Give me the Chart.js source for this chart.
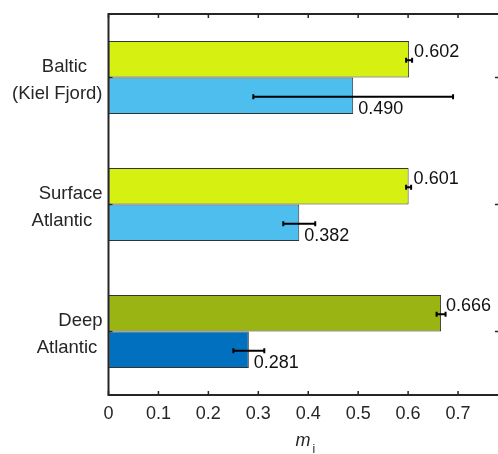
<!DOCTYPE html>
<html>
<head>
<meta charset="utf-8">
<script src="https://cdn.jsdelivr.net/npm/chart.js@4/dist/chart.umd.min.js"></script>
<style>
  html, body { margin: 0; padding: 0; overflow: hidden; background: #fff; }
  #wrap { width: 504px; height: 454px; }
</style>
</head>
<body>
<div id="wrap"><canvas id="c" width="504" height="454"></canvas></div>
<script>
// Region labels (trailing spaces keep the right-aligned lines staggered)
const regions = [["Baltic   ", "(Kiel Fjord)"], ["Surface", "Atlantic  "], ["Deep", "Atlantic "]];

// Upper bar of each pair, with its error half-width
const upperValues = [0.602, 0.601, 0.666];
const upperErrors = [0.006, 0.005, 0.009];

// Lower bar of each pair, with its error half-width
const lowerValues = [0.490, 0.382, 0.281];
const lowerErrors = [0.200, 0.032, 0.031];

const xTickValues = [0, 0.1, 0.2, 0.3, 0.4, 0.5, 0.6, 0.7];

const upperColors = ["#d6f011", "#d6f011", "#9ab513"];
const lowerColors = ["#4dbeee", "#4dbeee", "#0070bf"];

const FONT = '"Liberation Sans", Arial, Helvetica, sans-serif';
const INK = '#262626';

const errorMap = [upperErrors, lowerErrors];

// Inward tick marks and the axis box
const axisBox = {
  id: 'axisBox',
  beforeDatasetsDraw(chart) {
    const { ctx, chartArea: a, scales } = chart;
    ctx.save();
    ctx.strokeStyle = INK;
    ctx.lineWidth = 1.5;
    ctx.beginPath();
    scales.x.ticks.forEach(t => {
      const px = scales.x.getPixelForValue(t.value);
      ctx.moveTo(px, a.bottom); ctx.lineTo(px, a.bottom - 4);
      ctx.moveTo(px, a.top); ctx.lineTo(px, a.top + 4);
    });
    regions.forEach((_, i) => {
      const py = scales.y.getPixelForValue(i);
      ctx.moveTo(a.left, py); ctx.lineTo(a.left + 4, py);
      ctx.moveTo(a.right, py); ctx.lineTo(a.right - 5, py);
    });
    ctx.stroke();
    ctx.restore();
  },
  afterDatasetsDraw(chart) {
    const { ctx, chartArea: a } = chart;
    ctx.save();
    ctx.strokeStyle = INK;
    ctx.lineWidth = 2;
    ctx.strokeRect(a.left, a.top, a.right - a.left, a.bottom - a.top);
    ctx.restore();
  }
};

// Horizontal error bars with small caps, then the value labels
const errorBars = {
  id: 'errorBars',
  afterDatasetsDraw(chart) {
    const { ctx, scales } = chart;
    ctx.save();
    chart.data.datasets.forEach((ds, d) => {
      const meta = chart.getDatasetMeta(d);
      meta.data.forEach((bar, i) => {
        const v = ds.data[i];
        const e = errorMap[d][i];
        const x1 = scales.x.getPixelForValue(v - e);
        const x2 = scales.x.getPixelForValue(v + e);
        const y = bar.y + 1;
        ctx.strokeStyle = '#000';
        ctx.lineWidth = 2;
        ctx.beginPath();
        ctx.moveTo(x1, y); ctx.lineTo(x2, y);
        ctx.moveTo(x1, y - 2.5); ctx.lineTo(x1, y + 2.5);
        ctx.moveTo(x2, y - 2.5); ctx.lineTo(x2, y + 2.5);
        ctx.stroke();
      });
    });
    ctx.fillStyle = '#111';
    ctx.font = '18px ' + FONT;
    ctx.textAlign = 'left';
    ctx.textBaseline = 'alphabetic';
    chart.data.datasets.forEach((ds, d) => {
      const meta = chart.getDatasetMeta(d);
      meta.data.forEach((bar, i) => {
        const v = ds.data[i];
        const x = scales.x.getPixelForValue(v) + 5;
        const y = d === 0 ? bar.y - 2 : bar.y + 18.5;
        ctx.fillText(v.toFixed(3), x, y);
      });
    });
    ctx.restore();
  }
};

// Axis title: italic m with subscript i
const axisTitle = {
  id: 'axisTitle',
  afterDraw(chart) {
    const { ctx, chartArea: a } = chart;
    ctx.save();
    ctx.fillStyle = INK;
    ctx.textBaseline = 'alphabetic';
    ctx.textAlign = 'left';
    ctx.font = 'italic 18px ' + FONT;
    const wm = ctx.measureText('m').width;
    ctx.font = '12px ' + FONT;
    const wi = ctx.measureText('i').width;
    const cx = (a.left + a.right) / 2 + 1;
    const x0 = cx - (wm + 2 + wi) / 2;
    ctx.font = 'italic 18px ' + FONT;
    ctx.fillText('m', x0, 446);
    ctx.font = '12px ' + FONT;
    ctx.fillText('i', x0 + wm + 2, 453);
    ctx.restore();
  }
};

new Chart(document.getElementById('c'), {
  type: 'bar',
  data: {
    labels: regions,
    datasets: [
      {
        data: upperValues,
        backgroundColor: upperColors,
        borderColor: '#333333',
        borderWidth: 1,
        borderSkipped: false,
        categoryPercentage: 0.575,
        barPercentage: 1.0
      },
      {
        data: lowerValues,
        backgroundColor: lowerColors,
        borderColor: '#333333',
        borderWidth: 1,
        borderSkipped: false,
        categoryPercentage: 0.575,
        barPercentage: 1.0
      }
    ]
  },
  options: {
    indexAxis: 'y',
    responsive: false,
    animation: false,
    events: [],
    layout: { padding: { left: 0, right: 4, top: 14, bottom: 0 } },
    plugins: { legend: { display: false }, tooltip: { enabled: false } },
    scales: {
      x: {
        type: 'linear',
        min: 0,
        max: 0.784,
        grid: { display: false, drawTicks: false },
        border: { display: false },
        afterBuildTicks(scale) {
          scale.ticks = xTickValues.map(v => ({ value: v }));
        },
        ticks: {
          padding: 8,
          color: INK,
          font: { family: FONT, size: 18 },
          callback: v => String(v)
        },
        afterFit(scale) {
          scale.height = 59;
          scale.paddingLeft = 0;
          scale.paddingRight = 0;
        }
      },
      y: {
        grid: { display: false, drawTicks: false },
        border: { display: false },
        ticks: {
          padding: 6,
          labelOffset: 3,
          color: INK,
          font: { family: FONT, size: 18.5, lineHeight: 1.45 }
        },
        afterFit(scale) {
          scale.width = 108.5;
          scale.paddingTop = 0;
          scale.paddingBottom = 0;
        }
      }
    }
  },
  plugins: [axisBox, errorBars, axisTitle]
});
</script>
</body>
</html>
